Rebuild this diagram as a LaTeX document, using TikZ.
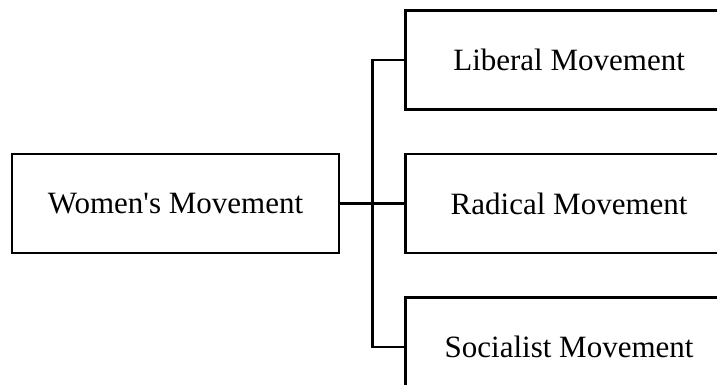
\documentclass[tikz,border=0pt]{standalone}
\usepackage{fontspec}
\setmainfont{Liberation Serif}[Ligatures=TeXOff]
\usepackage{tikz}
\usetikzlibrary{positioning,calc}

\begin{document}
\begin{tikzpicture}[node distance=21pt and 32pt, every node/.style={font=\fontsize{15.5}{18}\selectfont}]
        \clip (0,0) rectangle (358.5pt,-192.5pt);
        \tikzset{movebox/.style={draw=black, line width=1.3pt, minimum width=163.5pt, minimum height=49.5pt, inner sep=0pt, align=center}}
        \node[movebox] (women) at (87.75pt,-101.75pt) {Women's Movement};
        \node[movebox, right=of women] (radical) {Radical Movement};
        \node[movebox, above=of radical] (liberal) {Liberal Movement};
        \node[movebox, below=of radical] (socialist) {Socialist Movement};
        \coordinate (trunk) at ($(women.east)!0.5!(radical.west)$);
        \draw[line width=1.3pt] (women) -- (radical);
        \draw[line width=1.3pt] (liberal.west) -| (trunk) |- (socialist.west);
      \end{tikzpicture}
\end{document}
